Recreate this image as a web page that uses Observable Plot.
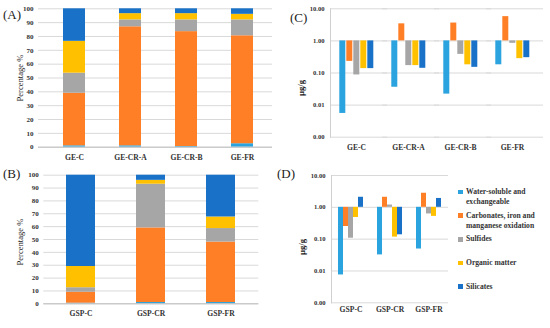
<!DOCTYPE html>
<html><head><meta charset="utf-8">
<script src="https://cdn.jsdelivr.net/npm/d3@7"></script>
<script src="https://cdn.jsdelivr.net/npm/@observablehq/plot@0.6"></script>
<style>
html,body{margin:0;padding:0;background:#fff;}
#fig{position:relative;width:550px;height:328px;overflow:hidden;font-family:"Liberation Serif",serif;color:#222;}
.panel{position:absolute;}
.tag{position:absolute;font-size:13px;line-height:13px;color:#222;transform:translateY(-50%);}
.ylab{position:absolute;white-space:nowrap;transform:translate(-50%,-50%) rotate(-90deg);line-height:1;}
#legend{position:absolute;left:458px;top:187px;font-weight:bold;font-size:7.6px;color:#333;}
#legend .item{position:relative;height:23.7px;line-height:10px;padding-left:8px;}
#legend .sw{position:absolute;left:0;top:2.7px;width:4.6px;height:4.6px;}
</style>
</head><body>
<div id="fig"></div>
<script>
// ---- data ----
const fractions = ["Water-soluble and exchangeable", "Carbonates, iron and manganese oxidation", "Sulfides", "Organic matter", "Silicates"];
const legendLines = [["Water-soluble and", "exchangeable"], ["Carbonates, iron and", "manganese oxidation"], ["Sulfides"], ["Organic matter"], ["Silicates"]];
const colors = ["#2AA3DE", "#FF7F27", "#A6A6A6", "#FFC000", "#1A72C8"];
const sitesGE = ["GE-C", "GE-CR-A", "GE-CR-B", "GE-FR"];
const sitesGSP = ["GSP-C", "GSP-CR", "GSP-FR"];

// (A) percentage, GE sites
const pctGE_water = [1, 1, 0.5, 2.5];
const pctGE_carb  = [38, 86, 83, 78];
const pctGE_sulf  = [14.5, 5, 8.5, 11.5];
const pctGE_org   = [23, 4.5, 4.5, 4];
const pctGE_sil   = [23.5, 3.5, 3.5, 4];
// (B) percentage, GSP sites
const pctGSP_water = [0.5, 1, 1];
const pctGSP_carb  = [8.5, 58, 47];
const pctGSP_sulf  = [3.5, 34, 10.5];
const pctGSP_org   = [16.5, 3, 9];
const pctGSP_sil   = [71, 4, 32.5];
// (C) concentration µg/g, GE sites
const concGE_water = [0.0055, 0.036, 0.022, 0.18];
const concGE_carb  = [0.23, 3.4, 3.6, 5.7];
const concGE_sulf  = [0.087, 0.17, 0.38, 0.84];
const concGE_org   = [0.137, 0.17, 0.18, 0.28];
const concGE_sil   = [0.137, 0.14, 0.15, 0.30];
// (D) concentration µg/g, GSP sites
const concGSP_water = [0.0075, 0.032, 0.049];
const concGSP_carb  = [0.25, 2.07, 2.77];
const concGSP_sulf  = [0.107, 1.18, 0.62];
const concGSP_org   = [0.48, 0.116, 0.52];
const concGSP_sil   = [2.07, 0.137, 1.9];

const pctTicks = [0, 10, 20, 30, 40, 50, 60, 70, 80, 90, 100];
const logTicks = [0.001, 0.01, 0.1, 1, 10];

function table(sites, rows) {
  const out = [];
  sites.forEach((s, i) => rows.forEach((r, j) => out.push({site: s, fraction: fractions[j], value: r[i]})));
  return out;
}

const font = {fontFamily: "'Liberation Serif', serif", background: "transparent", overflow: "visible"};
const color = {domain: fractions, range: colors};

function stacked(sites, rows, m, xo, catPad) {
  return Plot.plot({
    width: 275, height: 164,
    marginLeft: m[0], marginRight: m[1], marginTop: m[2], marginBottom: m[3],
    style: font,
    x: {domain: sites, paddingInner: xo[0], paddingOuter: xo[1], align: xo[2], label: null},
    y: {domain: [0, 100], label: null},
    color,
    marks: [
      Plot.gridY(pctTicks, {stroke: "#d9d9d9", strokeOpacity: 1}),
      Plot.barY(table(sites, rows), {x: "site", y: "value", fill: "fraction"}),
      Plot.ruleY([0], {stroke: "#bfbfbf"}),
      Plot.axisY(pctTicks, {tickSize: 0, tickPadding: 5, fontSize: 7, fontWeight: "bold", fill: "#333", label: null}),
      Plot.axisX({tickSize: 0, tickPadding: catPad, fontSize: 7.6, fontWeight: "bold", fill: "#333", label: null})
    ]
  });
}

function logPanel(sites, rows, m, xi, catPad) {
  return Plot.plot({
    width: 275, height: 164,
    marginLeft: m[0], marginRight: m[1], marginTop: m[2], marginBottom: m[3],
    style: font,
    fx: {domain: sites, paddingInner: 0, paddingOuter: 0, label: null},
    x: {domain: fractions, paddingInner: xi[0], paddingOuter: xi[1], axis: null},
    y: {type: "log", domain: [0.001, 10], label: null},
    color,
    marks: [
      Plot.gridY(logTicks, {stroke: "#d9d9d9", strokeOpacity: 1, insetRight: -m[4]}),
      Plot.barY(table(sites, rows), {fx: "site", x: "fraction", y1: 1, y2: "value", fill: "fraction"}),
      Plot.frame({anchor: "left", facetAnchor: "left", stroke: "#d0d0d0"}),
      Plot.axisY(logTicks, {tickSize: 0, tickPadding: 6, tickFormat: d => d.toFixed(2), fontSize: 6.6, fontWeight: "bold", fill: "#333", label: null}),
      Plot.axisFx({anchor: "bottom", tickSize: 0, tickPadding: catPad, fontSize: 7.6, fontWeight: "bold", fill: "#333", label: null})
    ]
  });
}

const fig = document.getElementById("fig");
function place(node, left, top) {
  const d = document.createElement("div");
  d.className = "panel";
  d.style.left = left + "px"; d.style.top = top + "px";
  d.appendChild(node);
  fig.appendChild(d);
}
function label(cls, text, left, top, extra) {
  const d = document.createElement("div");
  d.className = cls;
  d.textContent = text;
  d.style.left = left + "px"; d.style.top = top + "px";
  Object.assign(d.style, extra || {});
  fig.appendChild(d);
}

place(stacked(sitesGE, [pctGE_water, pctGE_carb, pctGE_sulf, pctGE_org, pctGE_sil], [38, 3, 8.3, 17.3], [0.612, 0.37, 0.57], 7), 0, 0);
place(stacked(sitesGSP, [pctGSP_water, pctGSP_carb, pctGSP_sulf, pctGSP_org, pctGSP_sil], [43.3, 16.7, 10.7, 24.7], [0.587, 0.327, 0.5], 6.5), 0, 164);
place(logPanel(sitesGE, [concGE_water, concGE_carb, concGE_sulf, concGE_org, concGE_sil], [54.7, 12, 8.3, 27.3, 5], [0.167, 0.84], 7), 275, 0);
place(logPanel(sitesGSP, [concGSP_water, concGSP_carb, concGSP_sulf, concGSP_org, concGSP_sil], [55, 102, 11, 25.7, 0], [0.06, 0.9], 4), 275, 164);

label("tag", "(A)", 3, 14);
label("tag", "(B)", 3, 173);
label("tag", "(C)", 290, 17);
label("tag", "(D)", 277, 173);
label("ylab", "Percentage %", 20, 78, {fontSize: "8.6px"});
label("ylab", "Percentage %", 20, 242, {fontSize: "8.6px"});
label("ylab", "µg/g", 300.5, 88, {fontSize: "8.6px", fontWeight: "bold"});
label("ylab", "µg/g", 302, 247, {fontSize: "8.6px", fontWeight: "bold"});

const lg = document.createElement("div");
lg.id = "legend";
legendLines.forEach((lines, i) => {
  const it = document.createElement("div");
  it.className = "item";
  const sw = document.createElement("span");
  sw.className = "sw";
  sw.style.background = colors[i];
  it.appendChild(sw);
  lines.forEach(t => { const l = document.createElement("div"); l.textContent = t; it.appendChild(l); });
  lg.appendChild(it);
});
fig.appendChild(lg);
</script>
</body></html>
